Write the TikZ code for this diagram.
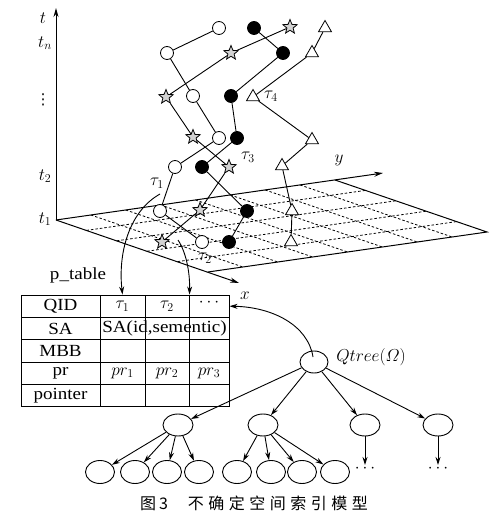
\documentclass[tikz,border=0pt]{standalone}
\usepackage{fontspec}
\setmainfont{Liberation Serif}[FakeStretch=1.12]
\newfontfamily\cjk{Noto Sans CJK SC}
\newfontfamily\djv{DejaVu Sans}
\usetikzlibrary{arrows.meta,shapes.geometric,calc}
\begin{document}
\begin{tikzpicture}[x=1pt,y=-1pt,
  every node/.style={font=\fontsize{17}{20}\selectfont, inner sep=0pt},
  wc/.style={circle,draw,fill=white,minimum size=13pt,line width=0.8pt},
  bc/.style={circle,draw,fill=black,minimum size=13pt,line width=0.8pt},
  st/.style={star,star points=5,star point ratio=2.3,draw,fill=gray!35,minimum size=15pt,line width=0.8pt},
  tri/.style={regular polygon,regular polygon sides=3,draw,fill=white,minimum size=15pt,line width=0.8pt},
  traj/.style={line width=0.9pt},
  axis/.style={line width=1pt,-{Stealth[length=9pt,width=5pt]}},
  arr/.style={line width=0.9pt,-{Stealth[length=8pt,width=5pt]}},
  ell/.style={ellipse,draw,minimum width=30pt,minimum height=22pt,line width=0.9pt},
  cell/.style={draw,rectangle,line width=1pt,minimum height=22.35pt},
  grid/.style={line width=0.8pt,dash pattern=on 2.5pt off 2pt}
]
\useasboundingbox (0,0) rectangle (492,518);

% plane and grid
\coordinate (O) at (56,220);
\coordinate (A) at (208,272);
\coordinate (B) at (335,180);
\coordinate (C) at (487,232);
\foreach \i in {1,...,4} \draw[grid] ($(O)!\i/5!(A)$) -- ($(B)!\i/5!(C)$);
\foreach \j in {1,...,7} \draw[grid] ($(O)!\j/8!(B)$) -- ($(A)!\j/8!(C)$);
\draw[line width=1pt] (A) -- (C) -- (B);

% axes
\coordinate (tend) at (56,8);
\coordinate (yend) at (383,173);
\coordinate (xend) at (239,283);
\draw[axis] (O) -- (tend);
\draw[axis] (O) -- (yend);
\draw[axis] (O) -- (xend);
\node (tl) at (43,18) {$t$};
\node (tnl) at (45,43) {$t_n$};
\node[font=\djv\fontsize{15}{18}\selectfont] (dl) at (43,100) {⋮};
\node (t2l) at (45,176) {$t_2$};
\node (t1l) at (45,219) {$t_1$};
\node (yl) at (339,160) {$y$};
\node (xl) at (245,296) {$x$};

% trajectories: white circles
\node[wc] (W1) at (219,28) {};
\node[wc] (W2) at (167,53) {};
\node[wc] (W3) at (193,96) {};
\node[wc] (W4) at (219,138) {};
\node[wc] (W5) at (175,167) {};
\node[wc] (W6) at (160,211) {};
\node[wc] (W7) at (202,242) {};
% stars
\node[st] (S1) at (290,27) {};
\node[st] (S2) at (231,53) {};
\node[st] (S3) at (166,97) {};
\node[st] (S4) at (193,137) {};
\node[st] (S5) at (229,167) {};
\node[st] (S6) at (200,210) {};
\node[st] (S7) at (162,242) {};
% black circles
\node[bc] (K1) at (254,28) {};
\node[bc] (K2) at (283,53) {};
\node[bc] (K3) at (231,96) {};
\node[bc] (K4) at (237,138) {};
\node[bc] (K5) at (202,167) {};
\node[bc] (K6) at (247,211) {};
\node[bc] (K7) at (229,242) {};
% triangles
\node[tri] (T1) at (325,28) {};
\node[tri] (T2) at (312,53) {};
\node[tri] (T3) at (253,97) {};
\node[tri] (T4) at (312,140) {};
\node[tri] (T5) at (282,166) {};
\node[tri] (T6) at (292,211) {};
\node[tri] (T7) at (291,242) {};

\draw[traj] (W1) -- (W2) -- (W3) -- (W4) -- (W5) -- (W6) -- (W7);
\draw[traj] (S1) -- (S2) -- (S3) -- (S4) -- (S5) -- (S6) -- (S7);
\draw[traj] (K1) -- (K2) -- (K3) -- (K4) -- (K5) -- (K6) -- (K7);
\draw[traj] (T1) -- (T2) -- (T3) -- (T4) -- (T5) -- (T6) -- (T7);

\node (tau1) at (157,183) {$\tau_1$};
\node (tau2) at (205,258) {$\tau_2$};
\node (tau3) at (248,157) {$\tau_3$};
\node (tau4) at (271,96) {$\tau_4$};

% table
\node (ptl) at (78,275) {p\_table};
\node[cell,minimum width=79pt] (qid) at (60.5,306.2) {QID};
\node[cell,minimum width=45pt] (q1) at (122.5,306.2) {$\tau_1$};
\node[cell,minimum width=44pt] (q2) at (167,306.2) {$\tau_2$};
\node[cell,minimum width=40pt] (q3) at (209,306.2) {};
\node (q3t) at (209,303) {$\cdots$};
\node[cell,minimum width=79pt] (sa) at (60.5,328.5) {SA};
\node[cell,minimum width=45pt] (s1) at (122.5,328.5) {};
\node[cell,minimum width=44pt] (s2) at (167,328.5) {};
\node[cell,minimum width=40pt] (s3) at (209,328.5) {};
\node (sat) at (164.5,328.5) {SA(id,sementic)};
\node[cell,minimum width=79pt] (mbb) at (60.5,350.9) {MBB};
\node[cell,minimum width=45pt] (m1) at (122.5,350.9) {};
\node[cell,minimum width=44pt] (m2) at (167,350.9) {};
\node[cell,minimum width=40pt] (m3) at (209,350.9) {};
\node[cell,minimum width=79pt] (pr) at (60.5,373.2) {pr};
\node[cell,minimum width=45pt] (p1) at (122.5,373.2) {$pr_1$};
\node[cell,minimum width=44pt] (p2) at (167,373.2) {$pr_2$};
\node[cell,minimum width=40pt] (p3) at (209,373.2) {$pr_3$};
\node[cell,minimum width=79pt] (ptr) at (60.5,395.6) {pointer};
\node[cell,minimum width=45pt] (o1) at (122.5,395.6) {};
\node[cell,minimum width=44pt] (o2) at (167,395.6) {};
\node[cell,minimum width=40pt] (o3) at (209,395.6) {};

% curved arrows to table
\coordinate (a1s) at (160,194);
\coordinate (a2s) at (178,240);
\draw[arr] (a1s) .. controls (128,212) and (118,255) .. (q1.north);
\draw[arr] (a2s) .. controls (186,252) and (190,272) .. (q2.north east);

% tree
\node[ell,minimum width=28pt] (root) at (314,362) {};
\node (ql) at (371,357) {$Qtree(\mathnormal{\Omega})$};
\coordinate (rs) at (313,357);
\draw[arr] (rs) .. controls (308,325) and (272,307) .. (q3.east);

\node[ell] (c1) at (178,425) {};
\node[ell] (c2) at (263,425) {};
\node[ell] (c3) at (365,425) {};
\node[ell] (c4) at (438,425) {};
\foreach \n/\x in {1/100,2/135,3/167,4/199,5/237,6/271,7/302,8/335}
  \node[ell,minimum width=29pt,minimum height=23pt] (l\n) at (\x,472) {};
\node (d3) at (365,469) {$\cdots$};
\node (d4) at (438,469) {$\cdots$};

\draw[arr] (root) -- (c1);
\draw[arr] (root) -- (c2);
\draw[arr] (root) -- (c3);
\draw[arr] (root) -- (c4);
\foreach \n in {1,...,4} \draw[arr] (c1) -- (l\n);
\foreach \n in {5,...,8} \draw[arr] (c2) -- (l\n);
\draw[arr] (c3) -- (d3);
\draw[arr] (c4) -- (d4);

% caption
\node[font=\cjk\fontsize{16}{18}\selectfont] (cap) at (254,503)
  {图\hspace{3pt}3\hspace{20pt}不\hspace{4.5pt}确\hspace{4.5pt}定\hspace{4.5pt}空\hspace{4.5pt}间\hspace{4.5pt}索\hspace{4.5pt}引\hspace{4.5pt}模\hspace{4.5pt}型};
\end{tikzpicture}
\end{document}
